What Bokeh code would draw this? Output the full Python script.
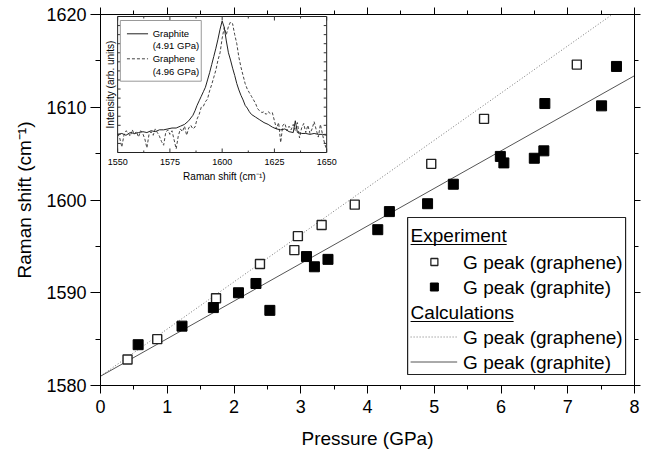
import math
from bokeh.plotting import figure
from bokeh.models import Range1d, LinearAxis, SingleIntervalTicker, Label, CustomLabelingPolicy
from bokeh.embed import file_html
from bokeh.resources import INLINE

# ---------------- data (main plot) ----------------
graphene_pressure = [0.405, 0.850, 1.731, 2.389, 2.904, 2.957, 3.313, 3.809, 4.955, 5.746, 7.136]
graphene_shift = [1582.8, 1585.0, 1589.4, 1593.1, 1594.6, 1596.1, 1597.3, 1599.5, 1603.9, 1608.75, 1614.6]

graphite_pressure = [0.564, 1.221, 1.691, 2.067, 2.329, 2.537, 3.086, 3.205, 3.408, 4.154,
                     4.328, 4.900, 5.286, 5.990, 6.043, 6.499, 6.642, 6.657, 7.507, 7.730]
graphite_shift = [1584.4, 1586.4, 1588.4, 1590.0, 1591.0, 1588.1, 1593.9, 1592.8, 1593.6, 1596.8,
                  1598.75, 1599.6, 1601.7, 1604.7, 1604.0, 1604.5, 1605.3, 1610.4, 1610.15, 1614.4]

calc_pressure = [0.0, 8.0]
calc_graphene = [1581.0, 1621.7]
calc_graphite = [1581.0, 1613.4]

# ---------------- data (inset spectra) ----------------
inset_graphite_x = [1550, 1552, 1554, 1556, 1558, 1560, 1562, 1564, 1566, 1568, 1570, 1572, 1574,
                    1576, 1578, 1580, 1582, 1584, 1585, 1586, 1587, 1588, 1589, 1590, 1591, 1592,
                    1593, 1594, 1595, 1596, 1597, 1598, 1599, 1600, 1601, 1602, 1603, 1604, 1605,
                    1606, 1607, 1608, 1609, 1610, 1611, 1612, 1613, 1614, 1616, 1618, 1620, 1622,
                    1624, 1626, 1628, 1630, 1632, 1634, 1635, 1636, 1638, 1640, 1642, 1644, 1646,
                    1648, 1650]
inset_graphite_y = [2.0, 2.1, 1.9, 2.2, 2.1, 2.2, 2.3, 2.2, 2.4, 2.3, 2.5, 2.5, 2.6,
                    2.7, 2.7, 2.9, 3.1, 3.5, 3.8, 4.1, 4.6, 5.2, 5.7, 6.2, 6.7, 7.2,
                    8.0, 8.8, 9.7, 10.6, 11.5, 12.5, 13.6, 14.5, 13.8, 12.3, 11.0, 10.2, 9.3,
                    8.5, 7.6, 6.9, 6.3, 5.8, 5.2, 4.9, 4.5, 4.2, 3.9, 3.6, 3.3, 3.1,
                    2.8, 2.6, 2.5, 2.6, 2.3, 2.2, 3.5, 2.2, 2.1, 2.1, 2.0, 2.1, 2.0,
                    2.0, 1.9]

inset_graphene_x = list(range(1550, 1651))
inset_graphene_y = [2.1, 1.6, 0.6, 1.9, 2.4, 2.2, 1.8, 2.5, 2.0, 2.3,
                    1.7, 2.4, 2.1, 1.5, 0.5, 2.0, 2.3, 1.9, 2.6, 2.2,
                    1.8, 1.2, 0.8, 2.2, 2.5, 2.0, 2.4, 1.4, 0.4, 1.8,
                    2.6, 2.3, 2.9, 1.9, 2.7, 3.0, 2.6, 2.8, 3.7, 4.2,
                    5.0, 5.1, 5.6, 5.9, 6.8, 7.5, 8.3, 9.1, 10.2, 11.0,
                    12.6, 13.8, 13.0, 13.9, 14.4, 14.2, 13.0, 12.0, 10.5, 9.4,
                    8.5, 7.6, 7.0, 6.6, 6.2, 5.8, 5.4, 4.8, 4.6, 4.4,
                    4.5, 4.2, 4.5, 4.3, 4.4, 3.5, 2.6, 3.3, 1.1, 3.0,
                    3.2, 2.4, 2.9, 2.5, 3.1, 2.4, 3.3, 1.6, 2.7, 3.2,
                    2.2, 3.0, 2.1, 2.6, 3.4, 2.5, 1.7, 3.1, 2.0, 1.0,
                    0.3]

x_label = "Pressure (GPa)"
y_label = "Raman shift (cm\u207b\u00b9)"
inset_x_ticks = [1550, 1575, 1600, 1625, 1650]

FONT = "Liberation Sans"

# ---------------- geometry (page pixels) ----------------
FR_L, FR_R, FR_T, FR_B = 100.0, 639.0, 14.0, 385.0
W, H = 645, 457

def X(px):
    return (px - FR_L) / (FR_R - FR_L) * 8.0

def Y(py):
    return 1620.0 - (py - FR_T) / (FR_B - FR_T) * 40.0

# inset mapping: 1550 -> 117.3px, 1650 -> 328.3px ; intensity 0 -> 152px, 15 -> 16px
IX0, IX1 = 117.3, 328.3
IY0, IY1 = 152.0, 16.0
sx = (IX1 - IX0) / 100.0
sy = (IY0 - IY1) / 15.0
ix_start = 1550 - (IX0 - FR_L) / sx
ix_end = 1550 + (FR_R - IX0) / sx
iy_start = -(FR_B - IY0) / sy
iy_end = (IY0 - FR_T) / sy

def IX(px):
    return 1550 + (px - IX0) / sx

def IY(py):
    return (IY0 - py) / sy

p = figure(width=W, height=H, x_range=Range1d(0, 8), y_range=Range1d(1580, 1620),
           output_backend="svg", toolbar_location=None,
           min_border_left=int(FR_L), min_border_right=int(W - FR_R),
           min_border_top=int(FR_T), min_border_bottom=int(H - FR_B))
p.extra_x_ranges = {"ix": Range1d(ix_start, ix_end)}
p.extra_y_ranges = {"iy": Range1d(iy_start, iy_end)}
p.xgrid.visible = False
p.ygrid.visible = False
p.outline_line_color = None
p.background_fill_color = "white"
p.border_fill_color = "white"

no_labels = CustomLabelingPolicy(code="""
    for (const i of indices) { indices.unset(i) }
    return indices
""")

def style_axis(ax, tick_out, minor_out, labels=True):
    ax.axis_line_color = "black"
    ax.axis_line_width = 1
    ax.major_tick_line_color = "black"
    ax.minor_tick_line_color = "black"
    ax.major_tick_in = 0
    ax.minor_tick_in = 0
    ax.major_tick_out = tick_out
    ax.minor_tick_out = minor_out
    if labels:
        ax.major_label_text_font = FONT
        ax.major_label_text_font_size = "18px"
        ax.major_label_text_color = "black"
        ax.axis_label_text_font = FONT
        ax.axis_label_text_font_size = "19px"
        ax.axis_label_text_font_style = "normal"
        ax.axis_label_text_color = "black"
    else:
        ax.major_label_policy = no_labels
        ax.major_label_text_font_size = "1px"
        ax.major_label_standoff = 0

xb = p.xaxis[0]
xb.ticker = SingleIntervalTicker(interval=1, num_minor_ticks=2)
style_axis(xb, 8, 4)
xb.axis_label = x_label
xb.major_label_standoff = 6
xb.axis_label_standoff = 12

yl = p.yaxis[0]
yl.ticker = SingleIntervalTicker(interval=10, num_minor_ticks=2)
style_axis(yl, 10, 5)
yl.axis_label = y_label
yl.major_label_standoff = 4
yl.axis_label_standoff = 8

xt = LinearAxis(ticker=SingleIntervalTicker(interval=1, num_minor_ticks=2))
style_axis(xt, 7, 4, labels=False)
p.add_layout(xt, "above")
yr = LinearAxis(ticker=SingleIntervalTicker(interval=10, num_minor_ticks=2))
style_axis(yr, 6, 4, labels=False)
p.add_layout(yr, "right")

# ---------------- calculation lines and data ----------------
p.line(calc_pressure, calc_graphene, line_color="#777777", line_width=1, line_dash="1 2")
p.line(calc_pressure, calc_graphite, line_color="#555555", line_width=1)
p.scatter(graphene_pressure, graphene_shift, marker="square", size=9,
          fill_color="white", line_color="#222222", line_width=1.4)
p.scatter(graphite_pressure, graphite_shift, marker="square", size=10,
          fill_color="black", line_color="black", line_width=1)

# ---------------- main legend ----------------
p.quad(left=[X(410)], right=[X(630)], top=[Y(217)], bottom=[Y(374)],
       fill_color="white", line_color="#222222", line_width=1.2)
rows = [235, 261.5, 286.5, 311.5, 336.5, 361.5]
texts = ["Experiment", "G peak (graphene)", "G peak (graphite)",
         "Calculations", "G peak (graphene)", "G peak (graphite)"]
for i, (ry, t) in enumerate(zip(rows, texts)):
    tx = 413 if i in (0, 3) else 466
    p.add_layout(Label(x=X(tx), y=Y(ry), text=t, text_font=FONT, text_font_size="19px",
                       text_baseline="middle", text_align="left", text_color="black"))
p.line([X(413), X(510)], [Y(244), Y(244)], line_color="black", line_width=1)
p.line([X(413), X(517)], [Y(321), Y(321)], line_color="black", line_width=1)
p.scatter([X(437)], [Y(rows[1])], marker="square", size=7, fill_color="white",
          line_color="#222222", line_width=1.3)
p.scatter([X(437)], [Y(rows[2])], marker="square", size=8, fill_color="black",
          line_color="black")
p.line([X(413), X(460)], [Y(rows[4]), Y(rows[4])], line_color="#777777", line_width=1,
       line_dash="1 2")
p.line([X(413), X(460)], [Y(rows[5]), Y(rows[5])], line_color="#555555", line_width=1)

# ---------------- inset ----------------
R = dict(x_range_name="ix", y_range_name="iy")
p.quad(left=[1550], right=[1650], bottom=[0], top=[15], fill_color="white",
       line_color="#222222", line_width=1, **R)
p.line(inset_graphene_x, inset_graphene_y, line_color="#444444", line_width=1,
       line_dash="3 2", **R)
p.line(inset_graphite_x, inset_graphite_y, line_color="#222222", line_width=1, **R)

# inset ticks (inward)
tx0, tx1, ty0, ty1 = [], [], [], []
for k in range(9):
    xv = 1550 + 12.5 * k
    ln = (4 if k % 2 == 0 else 2) / sy
    tx0 += [xv, xv]; tx1 += [xv, xv]
    ty0 += [0, 15]; ty1 += [ln, 15 - ln]
for k in range(1, 15):
    ln = 3 / sx
    tx0 += [1550, 1650]; tx1 += [1550 + ln, 1650 - ln]
    ty0 += [k, k]; ty1 += [k, k]
p.segment(tx0, ty0, tx1, ty1, line_color="#333333", line_width=1, **R)

for v in inset_x_ticks:
    p.add_layout(Label(x=v, y=IY(161), text=str(v), text_font=FONT, text_font_size="9px",
                       text_align="center", text_baseline="middle", text_color="black", **R))
p.add_layout(Label(x=IX(225), y=IY(176), text="Raman shift (cm\u207b\u00b9)", text_font=FONT,
                   text_font_size="10px", text_align="center", text_baseline="middle",
                   text_color="black", **R))
p.add_layout(Label(x=IX(110.5), y=IY(84), text="Intensity (arb. units)", text_font=FONT,
                   text_font_size="10px", text_align="center", text_baseline="middle",
                   angle=math.pi / 2, text_color="black", **R))

# inset legend
p.quad(left=[IX(120)], right=[IX(201.7)], top=[IY(20)], bottom=[IY(80.7)],
       fill_color="white", line_color="#999999", line_width=1, **R)
p.line([IX(126.7), IX(148)], [IY(33.3), IY(33.3)], line_color="#222222", line_width=1, **R)
p.line([IX(126.7), IX(148)], [IY(58.3), IY(58.3)], line_color="#444444", line_width=1,
       line_dash="3 2", **R)
for ty, t in [(33.3, "Graphite"), (45, "(4.91 GPa)"), (58.3, "Graphene"), (71, "(4.96 GPa)")]:
    p.add_layout(Label(x=IX(152.7), y=IY(ty), text=t, text_font=FONT, text_font_size="9.5px",
                       text_align="left", text_baseline="middle", text_color="black", **R))

open("out.html", "w").write(file_html(p, INLINE))
